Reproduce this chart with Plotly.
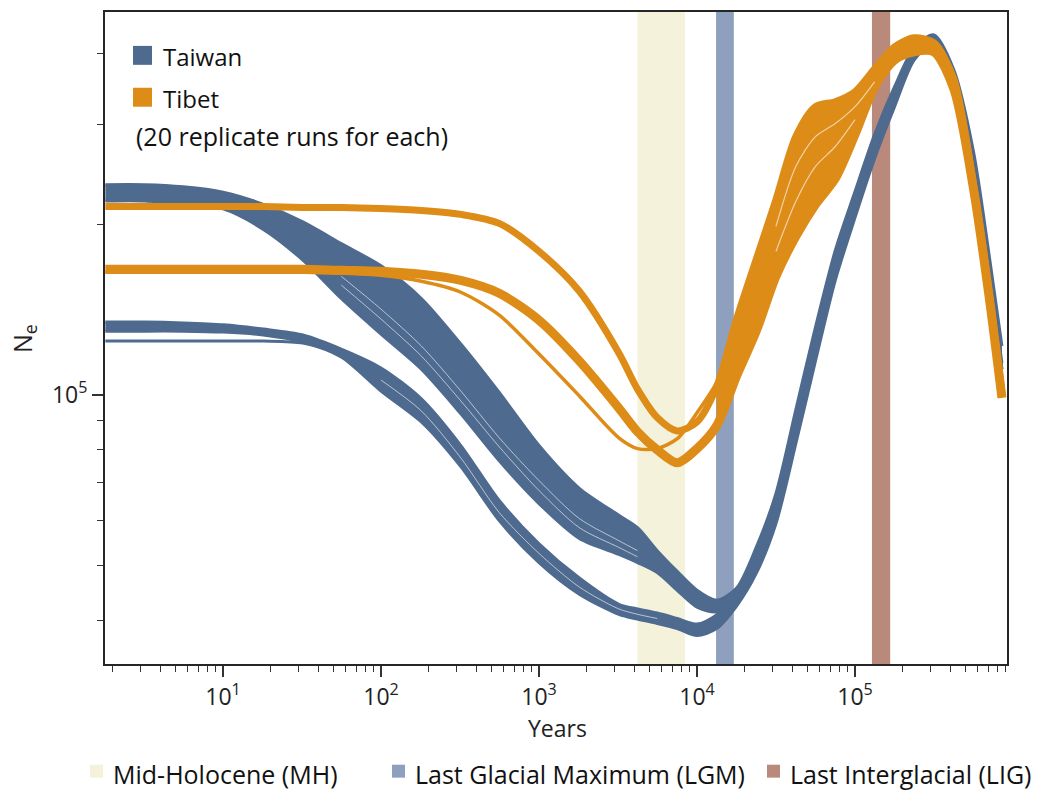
import plotly.graph_objects as go

# ---------------- data (Ne in thousands) ----------------
YEARS = [1.8, 3.2, 5.6, 10, 18, 32, 56, 100, 180, 320, 560, 1000, 1800, 3200, 4200,
         5600, 7500, 10000, 13300, 17800, 23700, 31600, 42200, 56200, 75000, 100000,
         133000, 178000, 237000, 316000, 422000, 562000, 708000, 851000]

# Taiwan: upper bundle of replicates (upper / lower envelope)
TAIWAN_A_TOP = [235, 235, 233, 228, 217, 202, 185, 169, 148, 123, 101, 81.4, 68.4, 61.3, 58.3,
                53.1, 48.8, 45.2, 43.4, 45.6, 53.8, 67.0, 94.1, 131.7, 179.9, 228.6, 288.1, 350,
                410, 432.2, 375, 268.9, 175.6, 122]
TAIWAN_A_BOT = [220, 220, 217, 213, 196, 173, 148, 128, 111, 92.6, 76.5, 64.3, 55.8, 52.3, 50.6,
                48.6, 45.2, 42.2, 41.4, 43.2, 50.4, 62.3, 85.4, 122, 167, 214, 271, 332, 395,
                420, 356, 247, 160, 111]
# Taiwan: lower group of replicates
TAIWAN_B_TOP = [134.5, 134.5, 134, 133, 130.7, 127.6, 120.5, 111.6, 98.4, 81.4, 65.1, 54.6, 47.5,
                42.7, 41.9, 41.2, 40.3, 39.4, 40.9, 44.3, 51.6, 63.8, 87.5, 124.5, 171.4, 219.5,
                277.8, 340.2, 404.9, 430.4, 364.5, 253, 164, 113.9]
TAIWAN_B_BOT = [129.6, 129.6, 129.6, 129.1, 127.6, 124, 116.7, 101.6, 89.6, 74.7, 60, 50.6, 44.5,
                41, 40.2, 39.5, 38.7, 37.6, 38.7, 42.4, 48.4, 59.3, 82.0, 114.8, 159.3, 205.7,
                261.3, 322.8, 390.4, 418.3, 345.6, 232.4, 149.4, 103.7]
TAIWAN_B_SINGLE = [124.5, 124.5, 124.5, 124.5, 124.5, 123.5, 117.6, 103.7, 90.7, 75.6, 60.7, 51,
                   44.8, 41.4, 40.3, 39.7, 38.9, 37.8, 39, 43.2, 50.4, 62.3, 85.4, 122, 167, 214,
                   271, 332, 395, 420, 356, 247, 160, 111]
# thin separations between individual Taiwan replicates
N = None
TAIWAN_GAP_1 = [N, N, N, N, N, N, 162.0, 141.7, 122.0, 101.6, 84.0, 70.6, 60.5, 55.3, 53.1] + [N] * 19
TAIWAN_GAP_2 = [N, N, N, N, N, N, 156.3, 136.1, 117.1, 97.6, 81.0, 67.8, 58.3, 53.8, 51.8] + [N] * 19
TAIWAN_GAP_3 = [N, N, N, N, N, N, N, 106.2, 93.7, 77.4, 62.0, 52.5, 45.8, 41.9, 41.0, 40.3] + [N] * 18

# Tibet
TIBET_UPPER = [215, 215, 215, 215, 215, 214.3, 214.3, 213.4, 211.7, 208.3, 200.8, 179.2, 152.4,
               118.6, 102.4, 91.2, 86.4, 89.6, 103.3, 136.1, 173.5, 221.3, 285.8, 322.8, 329.3,
               342.9, 376.5, 411.7, 427, 418.3, 361.5, 235.3, 151.2, 100.8]
TIBET_LOWER = [166.7, 166.7, 166.7, 166.7, 166.7, 166.7, 166, 165.3, 163.3, 159.3, 151.2, 135.5,
               114.8, 94.8, 86.1, 80, 75.9, 80.4, 88.2, 108, 129.6, 162, 190.5, 216.9, 241, 288.2,
               350, 390.4, 403.3, 403.3, 347.1, 231.4, 148.2, 98.8]
TIBET_SINGLE = [164.6, 164.6, 164.6, 164.6, 164.6, 164.6, 164, 162.6, 158.7, 151.8, 138.3, 118.1,
                99.6, 84, 80.4, 80.4, 83.7, 93, 105, 124.5, 146.4, 186.7, 228.6, 258.2, 280, 310,
                360, 400, 416.7, 411.7, 354.3, 234.3, 150.6, 100]
TIBET_GAP_1 = [N] * 21 + [198.4, 253.1, 285.8, 301.3, 322.8, 357.1] + [N] * 7
TIBET_GAP_2 = [N] * 21 + [179.2, 219.5, 253.1, 274.5, 306.2] + [N] * 8

PERIODS = ["Mid-Holocene (MH)", "Last Glacial Maximum (LGM)", "Last Interglacial (LIG)"]
PERIOD_START = [4200, 13200, 128000]
PERIOD_END = [8400, 17100, 167000]

X_TICKS = [10, 100, 1000, 10000, 100000]
X_TICK_TEXT = ["10<sup>1</sup>", "10<sup>2</sup>", "10<sup>3</sup>", "10<sup>4</sup>", "10<sup>5</sup>"]
X_MINOR = [m * 10 ** e for e in range(0, 6) for m in range(2, 10)]
Y_TICKS = [100000]
Y_TICK_TEXT = ["10<sup>5</sup>"]
Y_MINOR = [40000, 50000, 60000, 70000, 80000, 90000, 200000, 300000, 400000]

# ---------------- styles ----------------
BLUE = "#4E6A8F"
ORANGE = "#DE8C18"
PERIOD_COLORS = ["#F5F2DC", "#8EA0BE", "#B98A7B"]
GAP_COLOR = "rgba(255,255,255,0.6)"
FONT = "Open Sans"


def k(vals):
    return [None if v is None else v * 1000 for v in vals]


fig = go.Figure()

# period bands
for s, e, c in zip(PERIOD_START, PERIOD_END, PERIOD_COLORS):
    fig.add_trace(go.Scatter(x=[s, s, e, e, s], y=[1e4, 1e7, 1e7, 1e4, 1e4], mode="lines",
                             fill="toself", fillcolor=c, line=dict(width=0, color=c),
                             hoverinfo="skip", showlegend=False))

SPL = dict(shape="spline", smoothing=0.8)


def band(top, bot, color, edge=3, x=YEARS):
    fig.add_trace(go.Scatter(x=x, y=k(top), mode="lines",
                             line=dict(color=color, width=edge, **SPL),
                             hoverinfo="skip", showlegend=False))
    fig.add_trace(go.Scatter(x=x, y=k(bot), mode="lines", fill="tonexty", fillcolor=color,
                             line=dict(color=color, width=edge, **SPL),
                             hoverinfo="skip", showlegend=False))


def line(vals, color, width, x=YEARS):
    fig.add_trace(go.Scatter(x=x, y=k(vals), mode="lines", connectgaps=False,
                             line=dict(color=color, width=width, **SPL),
                             hoverinfo="skip", showlegend=False))


# Taiwan
band(TAIWAN_B_TOP, TAIWAN_B_BOT, BLUE)
line(TAIWAN_B_SINGLE, BLUE, 3)
band(TAIWAN_A_TOP, TAIWAN_A_BOT, BLUE)
for g in (TAIWAN_GAP_1, TAIWAN_GAP_2, TAIWAN_GAP_3):
    line(g, GAP_COLOR, 1)

# Tibet
band(TIBET_UPPER[18:], TIBET_LOWER[18:], ORANGE, edge=1, x=YEARS[18:])
line(TIBET_LOWER, ORANGE, 9)
line(TIBET_SINGLE, ORANGE, 3.5)
line(TIBET_UPPER, ORANGE, 7)
for g in (TIBET_GAP_1, TIBET_GAP_2):
    line(g, GAP_COLOR, 1.2)

# ---------------- layout ----------------
L, R, T, B = 105, 33, 10, 126
W, H = 1040, 790
PW, PH = W - L - R, H - T - B


def px(xp):
    return (xp - L) / PW


def py(yp):
    return (H - B - yp) / PH


shapes = []
annotations = []

# inner legend
for yc, c, txt in [(53.5, BLUE, "Taiwan"), (95.5, ORANGE, "Tibet")]:
    shapes.append(dict(type="rect", xref="paper", yref="paper", x0=px(133), x1=px(152),
                       y0=py(yc + 9.5), y1=py(yc - 9.5), fillcolor=c, line=dict(width=0)))
    annotations.append(dict(xref="paper", yref="paper", x=px(161), y=py(yc + 1), text=txt,
                            showarrow=False, xanchor="left", yanchor="middle",
                            font=dict(family=FONT, size=24, color="#111")))
annotations.append(dict(xref="paper", yref="paper", x=px(134), y=py(134),
                        text="(20 replicate runs for each)", showarrow=False,
                        xanchor="left", yanchor="middle",
                        font=dict(family=FONT, size=25, color="#111")))

# bottom legend
for x0, label, c in zip([90, 392, 767], PERIODS, PERIOD_COLORS):
    shapes.append(dict(type="rect", xref="paper", yref="paper", x0=px(x0), x1=px(x0 + 13),
                       y0=py(778), y1=py(765), fillcolor=c, line=dict(width=0)))
    annotations.append(dict(xref="paper", yref="paper", x=px(x0 + 21), y=py(774), text=label,
                            showarrow=False, xanchor="left", yanchor="middle",
                            font=dict(family=FONT, size=25, color="#111")))

# axis titles
annotations.append(dict(xref="paper", yref="paper", x=px(557), y=py(728), text="Years",
                        showarrow=False, xanchor="center", yanchor="middle",
                        font=dict(family=FONT, size=23, color="#222")))
annotations.append(dict(xref="paper", yref="paper", x=px(24), y=py(338), text="N<sub>e</sub>",
                        showarrow=False, xanchor="center", yanchor="middle", textangle=-90,
                        font=dict(family=FONT, size=25, color="#222")))

TICKFONT = dict(family=FONT, size=23, color="#222")
fig.update_layout(
    width=W, height=H,
    margin=dict(l=L, r=R, t=T, b=B),
    paper_bgcolor="white", plot_bgcolor="white",
    shapes=shapes, annotations=annotations,
    showlegend=False,
    xaxis=dict(type="log", range=[0.253, 5.962], showgrid=False, zeroline=False,
               showline=True, linecolor="#262626", linewidth=2, mirror=True,
               ticks="outside", ticklen=11, tickwidth=1.5, tickcolor="#333",
               tickvals=X_TICKS, ticktext=X_TICK_TEXT, tickfont=TICKFONT,
               minor=dict(ticks="outside", ticklen=6, tickwidth=1.2, tickcolor="#333",
                          tickvals=X_MINOR, showgrid=False)),
    yaxis=dict(type="log", range=[4.525, 5.676], showgrid=False, zeroline=False,
               showline=True, linecolor="#262626", linewidth=2, mirror=True,
               ticks="outside", ticklen=11, tickwidth=1.5, tickcolor="#333",
               tickvals=Y_TICKS, ticktext=Y_TICK_TEXT, tickfont=TICKFONT,
               minor=dict(ticks="outside", ticklen=6, tickwidth=1.2, tickcolor="#333",
                          tickvals=Y_MINOR, showgrid=False)),
)

fig.write_html("out.html")
